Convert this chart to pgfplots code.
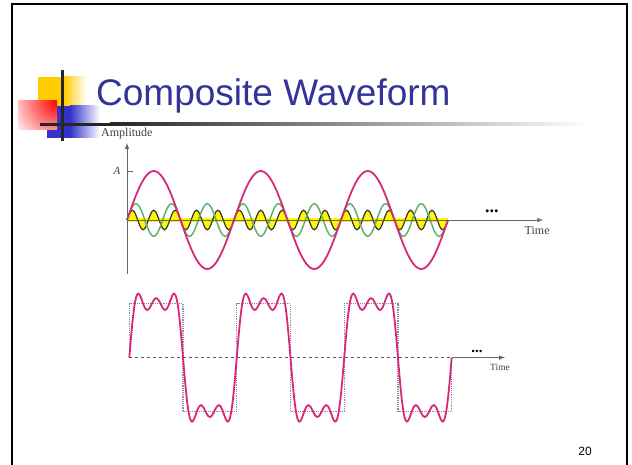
\documentclass[border=0pt]{standalone}
\usepackage{fontspec}
\setmainfont{Liberation Serif}
\newfontfamily\sansf{Liberation Sans}
\usepackage{pgfplots}
\usepackage{pgfplotstable}
\pgfplotsset{compat=1.18}
\definecolor{wpink}{RGB}{216,40,124}
\definecolor{wgreen}{RGB}{100,176,108}
\definecolor{wyellow}{RGB}{255,248,0}
\definecolor{titleblue}{RGB}{51,51,153}
\definecolor{sqyellow}{RGB}{255,204,0}
\definecolor{sqblue}{RGB}{51,51,204}
\pgfplotstableread{
t s1 s3 s5 f
0 0 0 0 0
6 0.1045 0.1030 0.1 0.3075
12 0.2079 0.1959 0.1732 0.5770
18 0.3090 0.2697 0.2 0.7787
24 0.4067 0.3170 0.1732 0.8969
30 0.5 0.3333 0.1 0.9333
36 0.5878 0.3170 0 0.9048
42 0.6691 0.2697 -0.1 0.8388
48 0.7431 0.1959 -0.1732 0.7658
54 0.8090 0.1030 -0.2 0.7120
60 0.8660 0 -0.1732 0.6928
66 0.9135 -0.1030 -0.1 0.7105
72 0.9511 -0.1959 0 0.7552
78 0.9781 -0.2697 0.1 0.8084
84 0.9945 -0.3170 0.1732 0.8507
90 1 -0.3333 0.2 0.8667
96 0.9945 -0.3170 0.1732 0.8507
102 0.9781 -0.2697 0.1 0.8084
108 0.9511 -0.1959 0 0.7552
114 0.9135 -0.1030 -0.1 0.7105
120 0.8660 0 -0.1732 0.6928
126 0.8090 0.1030 -0.2 0.7120
132 0.7431 0.1959 -0.1732 0.7658
138 0.6691 0.2697 -0.1 0.8388
144 0.5878 0.3170 0 0.9048
150 0.5 0.3333 0.1 0.9333
156 0.4067 0.3170 0.1732 0.8969
162 0.3090 0.2697 0.2 0.7787
168 0.2079 0.1959 0.1732 0.5770
174 0.1045 0.1030 0.1 0.3075
180 0 0 0 0
186 -0.1045 -0.1030 -0.1 -0.3075
192 -0.2079 -0.1959 -0.1732 -0.5770
198 -0.3090 -0.2697 -0.2 -0.7787
204 -0.4067 -0.3170 -0.1732 -0.8969
210 -0.5 -0.3333 -0.1 -0.9333
216 -0.5878 -0.3170 0 -0.9048
222 -0.6691 -0.2697 0.1 -0.8388
228 -0.7431 -0.1959 0.1732 -0.7658
234 -0.8090 -0.1030 0.2 -0.7120
240 -0.8660 0 0.1732 -0.6928
246 -0.9135 0.1030 0.1 -0.7105
252 -0.9511 0.1959 0 -0.7552
258 -0.9781 0.2697 -0.1 -0.8084
264 -0.9945 0.3170 -0.1732 -0.8507
270 -1 0.3333 -0.2 -0.8667
276 -0.9945 0.3170 -0.1732 -0.8507
282 -0.9781 0.2697 -0.1 -0.8084
288 -0.9511 0.1959 0 -0.7552
294 -0.9135 0.1030 0.1 -0.7105
300 -0.8660 0 0.1732 -0.6928
306 -0.8090 -0.1030 0.2 -0.7120
312 -0.7431 -0.1959 0.1732 -0.7658
318 -0.6691 -0.2697 0.1 -0.8388
324 -0.5878 -0.3170 0 -0.9048
330 -0.5 -0.3333 -0.1 -0.9333
336 -0.4067 -0.3170 -0.1732 -0.8969
342 -0.3090 -0.2697 -0.2 -0.7787
348 -0.2079 -0.1959 -0.1732 -0.5770
354 -0.1045 -0.1030 -0.1 -0.3075
360 0 0 0 0
366 0.1045 0.1030 0.1 0.3075
372 0.2079 0.1959 0.1732 0.5770
378 0.3090 0.2697 0.2 0.7787
384 0.4067 0.3170 0.1732 0.8969
390 0.5 0.3333 0.1 0.9333
396 0.5878 0.3170 0 0.9048
402 0.6691 0.2697 -0.1 0.8388
408 0.7431 0.1959 -0.1732 0.7658
414 0.8090 0.1030 -0.2 0.7120
420 0.8660 0 -0.1732 0.6928
426 0.9135 -0.1030 -0.1 0.7105
432 0.9511 -0.1959 0 0.7552
438 0.9781 -0.2697 0.1 0.8084
444 0.9945 -0.3170 0.1732 0.8507
450 1 -0.3333 0.2 0.8667
456 0.9945 -0.3170 0.1732 0.8507
462 0.9781 -0.2697 0.1 0.8084
468 0.9511 -0.1959 0 0.7552
474 0.9135 -0.1030 -0.1 0.7105
480 0.8660 0 -0.1732 0.6928
486 0.8090 0.1030 -0.2 0.7120
492 0.7431 0.1959 -0.1732 0.7658
498 0.6691 0.2697 -0.1 0.8388
504 0.5878 0.3170 0 0.9048
510 0.5 0.3333 0.1 0.9333
516 0.4067 0.3170 0.1732 0.8969
522 0.3090 0.2697 0.2 0.7787
528 0.2079 0.1959 0.1732 0.5770
534 0.1045 0.1030 0.1 0.3075
540 0 0 0 0
546 -0.1045 -0.1030 -0.1 -0.3075
552 -0.2079 -0.1959 -0.1732 -0.5770
558 -0.3090 -0.2697 -0.2 -0.7787
564 -0.4067 -0.3170 -0.1732 -0.8969
570 -0.5 -0.3333 -0.1 -0.9333
576 -0.5878 -0.3170 0 -0.9048
582 -0.6691 -0.2697 0.1 -0.8388
588 -0.7431 -0.1959 0.1732 -0.7658
594 -0.8090 -0.1030 0.2 -0.7120
600 -0.8660 0 0.1732 -0.6928
606 -0.9135 0.1030 0.1 -0.7105
612 -0.9511 0.1959 0 -0.7552
618 -0.9781 0.2697 -0.1 -0.8084
624 -0.9945 0.3170 -0.1732 -0.8507
630 -1 0.3333 -0.2 -0.8667
636 -0.9945 0.3170 -0.1732 -0.8507
642 -0.9781 0.2697 -0.1 -0.8084
648 -0.9511 0.1959 0 -0.7552
654 -0.9135 0.1030 0.1 -0.7105
660 -0.8660 0 0.1732 -0.6928
666 -0.8090 -0.1030 0.2 -0.7120
672 -0.7431 -0.1959 0.1732 -0.7658
678 -0.6691 -0.2697 0.1 -0.8388
684 -0.5878 -0.3170 0 -0.9048
690 -0.5 -0.3333 -0.1 -0.9333
696 -0.4067 -0.3170 -0.1732 -0.8969
702 -0.3090 -0.2697 -0.2 -0.7787
708 -0.2079 -0.1959 -0.1732 -0.5770
714 -0.1045 -0.1030 -0.1 -0.3075
720 0 0 0 0
726 0.1045 0.1030 0.1 0.3075
732 0.2079 0.1959 0.1732 0.5770
738 0.3090 0.2697 0.2 0.7787
744 0.4067 0.3170 0.1732 0.8969
750 0.5 0.3333 0.1 0.9333
756 0.5878 0.3170 0 0.9048
762 0.6691 0.2697 -0.1 0.8388
768 0.7431 0.1959 -0.1732 0.7658
774 0.8090 0.1030 -0.2 0.7120
780 0.8660 0 -0.1732 0.6928
786 0.9135 -0.1030 -0.1 0.7105
792 0.9511 -0.1959 0 0.7552
798 0.9781 -0.2697 0.1 0.8084
804 0.9945 -0.3170 0.1732 0.8507
810 1 -0.3333 0.2 0.8667
816 0.9945 -0.3170 0.1732 0.8507
822 0.9781 -0.2697 0.1 0.8084
828 0.9511 -0.1959 0 0.7552
834 0.9135 -0.1030 -0.1 0.7105
840 0.8660 0 -0.1732 0.6928
846 0.8090 0.1030 -0.2 0.7120
852 0.7431 0.1959 -0.1732 0.7658
858 0.6691 0.2697 -0.1 0.8388
864 0.5878 0.3170 0 0.9048
870 0.5 0.3333 0.1 0.9333
876 0.4067 0.3170 0.1732 0.8969
882 0.3090 0.2697 0.2 0.7787
888 0.2079 0.1959 0.1732 0.5770
894 0.1045 0.1030 0.1 0.3075
900 0 0 0 0
906 -0.1045 -0.1030 -0.1 -0.3075
912 -0.2079 -0.1959 -0.1732 -0.5770
918 -0.3090 -0.2697 -0.2 -0.7787
924 -0.4067 -0.3170 -0.1732 -0.8969
930 -0.5 -0.3333 -0.1 -0.9333
936 -0.5878 -0.3170 0 -0.9048
942 -0.6691 -0.2697 0.1 -0.8388
948 -0.7431 -0.1959 0.1732 -0.7658
954 -0.8090 -0.1030 0.2 -0.7120
960 -0.8660 0 0.1732 -0.6928
966 -0.9135 0.1030 0.1 -0.7105
972 -0.9511 0.1959 0 -0.7552
978 -0.9781 0.2697 -0.1 -0.8084
984 -0.9945 0.3170 -0.1732 -0.8507
990 -1 0.3333 -0.2 -0.8667
996 -0.9945 0.3170 -0.1732 -0.8507
1002 -0.9781 0.2697 -0.1 -0.8084
1008 -0.9511 0.1959 0 -0.7552
1014 -0.9135 0.1030 0.1 -0.7105
1020 -0.8660 0 0.1732 -0.6928
1026 -0.8090 -0.1030 0.2 -0.7120
1032 -0.7431 -0.1959 0.1732 -0.7658
1038 -0.6691 -0.2697 0.1 -0.8388
1044 -0.5878 -0.3170 0 -0.9048
1050 -0.5 -0.3333 -0.1 -0.9333
1056 -0.4067 -0.3170 -0.1732 -0.8969
1062 -0.3090 -0.2697 -0.2 -0.7787
1068 -0.2079 -0.1959 -0.1732 -0.5770
1074 -0.1045 -0.1030 -0.1 -0.3075
1080 0 0 0 0
}\wave
\pgfplotstableread{
t sq
0 0
0 0.785
180 0.785
180 -0.785
360 -0.785
360 0.785
540 0.785
540 -0.785
720 -0.785
720 0.785
900 0.785
900 -0.785
1080 -0.785
1080 0
}\square

\begin{document}
\begin{tikzpicture}[x=1pt,y=1pt]
\path[use as bounding box, fill=white] (0,0) rectangle (632,465);
% slide decoration
\fill[sqyellow] (38,388) rectangle (64,359);
\shade[left color=sqyellow, right color=white] (64,388) rectangle (86,359);
\fill[sqblue] (47,359) rectangle (70,327);
\shade[left color=sqblue, right color=white] (70,359) rectangle (100,327);
\begin{scope}
\clip (18,364.3) rectangle (57,335);
\fill[white] (18,364.3) rectangle (57,335);
\shade[inner color=red, outer color=white] (57,364.3) circle (52);
\end{scope}
\fill[black!85] (40,342.2) rectangle (110,339.2);
\shade[left color=black!85, right color=white] (110,342.2) rectangle (590,339.2);
\draw[line width=3pt, black!85] (62,395) -- (62,324);
\node[anchor=base west, text=titleblue, font=\sansf\fontsize{37}{40}\selectfont, inner sep=0pt] at (96,359) {Composite Waveform};
\draw[line width=2.5pt] (12,-2) -- (12,461) -- (627,461) -- (627,-2);
\node[font=\sansf\fontsize{12}{14}\selectfont] at (585,14) {20};
\node[font=\fontsize{12}{14}\selectfont, text=black!75, anchor=west, inner sep=0pt] at (101,331.5) {Amplitude};

% top chart
\begin{axis}[at={(127pt,191.1pt)}, anchor=south west, scale only axis,
  width=416.1pt, height=130.8pt, xmin=0, xmax=1400, ymin=-1.1, ymax=1.57,
  hide axis, clip=false]
\addplot[fill=wyellow, draw=none, smooth] table[x=t,y=s5] {\wave} \closedcycle;
\draw[wyellow, line width=4pt] (0,0) -- (1080,0);
\addplot[black!80, line width=1.2pt, smooth] table[x=t,y=s5] {\wave};
\addplot[wgreen, line width=1.5pt, smooth] table[x=t,y=s3] {\wave};
\addplot[wpink, line width=1.8pt, smooth] table[x=t,y=s1] {\wave};
\draw[-latex, black!60, line width=1pt] (0,-1.1) -- (0,1.57);
\draw[-latex, black!60, line width=1pt] (0,0) -- (1400,0);
\draw[black!60, line width=1pt] (0,1) -- (20,1);
\node[font=\itshape\fontsize{11}{12}\selectfont, text=black!75] at (-34,1) {A};
\node[font=\bfseries\fontsize{18}{18}\selectfont, anchor=base, inner sep=0pt] at (1228,0.15) {...};
\node[font=\fontsize{12}{14}\selectfont, text=black!75] at (1380,-0.22) {Time};
\end{axis}

% bottom chart
\begin{axis}[at={(129.3pt,38.8pt)}, anchor=south west, scale only axis,
  width=375.7pt, height=137.2pt, xmin=0, xmax=1258.6, ymin=-1, ymax=1,
  hide axis, clip=false]
\addplot[black!45, densely dotted, line width=1.2pt] table[x=t,y=sq] {\square};
\draw[black!65, dashed, line width=1pt] (0,0) -- (1080,0);
\draw[-latex, black!60, line width=1pt] (1080,0) -- (1258.6,0);
\addplot[wpink, line width=1.8pt, smooth] table[x=t,y=f] {\wave};
\node[font=\bfseries\fontsize{15}{15}\selectfont, anchor=base, inner sep=0pt] at (1165,0.07) {...};
\node[font=\fontsize{9.5}{11}\selectfont, text=black!75] at (1242,-0.137) {Time};
\end{axis}
\end{tikzpicture}
\end{document}
